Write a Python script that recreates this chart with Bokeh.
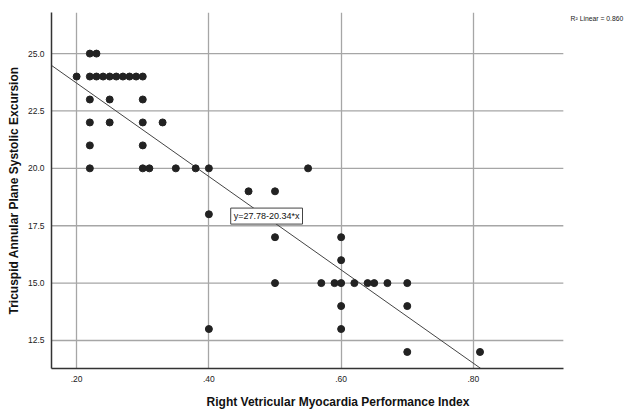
from bokeh.plotting import figure
from bokeh.models import Range1d, FixedTicker, Label
from bokeh.embed import file_html
from bokeh.resources import INLINE

# data
rvmpi = [0.22, 0.23,
         0.20, 0.22, 0.23, 0.24, 0.25, 0.26, 0.27, 0.28, 0.29, 0.30,
         0.22, 0.25, 0.30,
         0.22, 0.25, 0.30, 0.33,
         0.22, 0.30,
         0.22, 0.30, 0.31, 0.35, 0.38, 0.40, 0.55,
         0.46, 0.50,
         0.40,
         0.50, 0.60,
         0.60,
         0.50, 0.57, 0.59, 0.60, 0.62, 0.64, 0.65, 0.67, 0.70,
         0.60, 0.70,
         0.40, 0.60,
         0.70, 0.81]
tapse = [25, 25,
         24, 24, 24, 24, 24, 24, 24, 24, 24, 24,
         23, 23, 23,
         22, 22, 22, 22,
         21, 21,
         20, 20, 20, 20, 20, 20, 20,
         19, 19,
         18,
         17, 17,
         16,
         15, 15, 15, 15, 15, 15, 15, 15, 15,
         14, 14,
         13, 13,
         12, 12]
intercept = 27.78
slope = -20.34
r2 = 0.860
x_ticks = [0.2, 0.4, 0.6, 0.8]
x_tick_labels = [".20", ".40", ".60", ".80"]
y_ticks = [12.5, 15.0, 17.5, 20.0, 22.5, 25.0]
y_tick_labels = ["12.5", "15.0", "17.5", "20.0", "22.5", "25.0"]

FONT = "Liberation Sans"

x_start, x_axis_end, x_canvas_end = 0.162, 0.936, 1.0285
xr = Range1d(x_start, x_canvas_end)
yr = Range1d(11.28, 26.79)

p = figure(width=624, height=411, x_range=xr, y_range=yr,
           output_backend="svg", toolbar_location=None,
           min_border_left=51, min_border_right=0,
           min_border_top=12, min_border_bottom=43)
p.outline_line_color = None
p.background_fill_color = "white"
p.border_fill_color = "white"

for ax in (p.xaxis[0], p.yaxis[0]):
    ax.major_tick_line_color = None
    ax.minor_tick_line_color = None
    ax.major_tick_out = 0
    ax.major_tick_in = 0
    ax.minor_tick_out = 0
    ax.axis_line_color = "#333333"
    ax.axis_line_width = 1.5
    ax.major_label_text_font = FONT
    ax.major_label_text_font_size = "8.5px"
    ax.major_label_text_color = "#222222"
    ax.axis_label_text_font = FONT
    ax.axis_label_text_font_style = "bold"
    ax.axis_label_text_font_size = "12px"
    ax.axis_label_text_color = "#111111"

p.xaxis.ticker = FixedTicker(ticks=x_ticks)
p.xaxis.major_label_overrides = dict(zip(x_ticks, x_tick_labels))
p.xaxis.bounds = (x_start, x_axis_end)
p.yaxis.ticker = FixedTicker(ticks=y_ticks)
p.yaxis.major_label_overrides = dict(zip(y_ticks, y_tick_labels))
p.xaxis.axis_label = "Right Vetricular Myocardia Performance Index"
p.yaxis.axis_label = "Tricuspid Annular Plane Systolic Excursion"
p.xaxis.major_label_standoff = 7
p.yaxis.major_label_standoff = 7
p.xaxis.axis_label_standoff = 10
p.yaxis.axis_label_standoff = 4

p.xgrid[0].grid_line_color = "#a6a6a6"
p.xgrid[0].grid_line_width = 1.3
p.ygrid.visible = False
# horizontal grid lines stop where the x axis ends
n = len(y_ticks)
p.segment(x0=[x_start] * n, y0=y_ticks, x1=[x_axis_end] * n, y1=y_ticks,
          line_color="#a6a6a6", line_width=1.3)

# fit line
x0 = x_start
x1 = (yr.start - intercept) / slope
p.line([x0, x1], [intercept + slope * x0, intercept + slope * x1],
       line_color="#444444", line_width=1)

p.scatter(rvmpi, tapse, size=7, fill_color="#222222", line_color="#222222")

eq = Label(x=0.433, y=17.92, text="y=27.78-20.34*x", text_font=FONT,
           text_font_size="9px", text_baseline="middle", text_align="left",
           text_color="#111111",
           background_fill_color="white", border_line_color="#444444",
           border_line_width=1, padding=3)
p.add_layout(eq)

r2lab = Label(x=0.947, y=26.52, text="R\u00b2 Linear = %.3f" % r2, text_font=FONT,
              text_font_size="6.8px", text_baseline="middle", text_align="left",
              text_color="#222222")
p.add_layout(r2lab)

open("out.html", "w").write(file_html(p, INLINE))
